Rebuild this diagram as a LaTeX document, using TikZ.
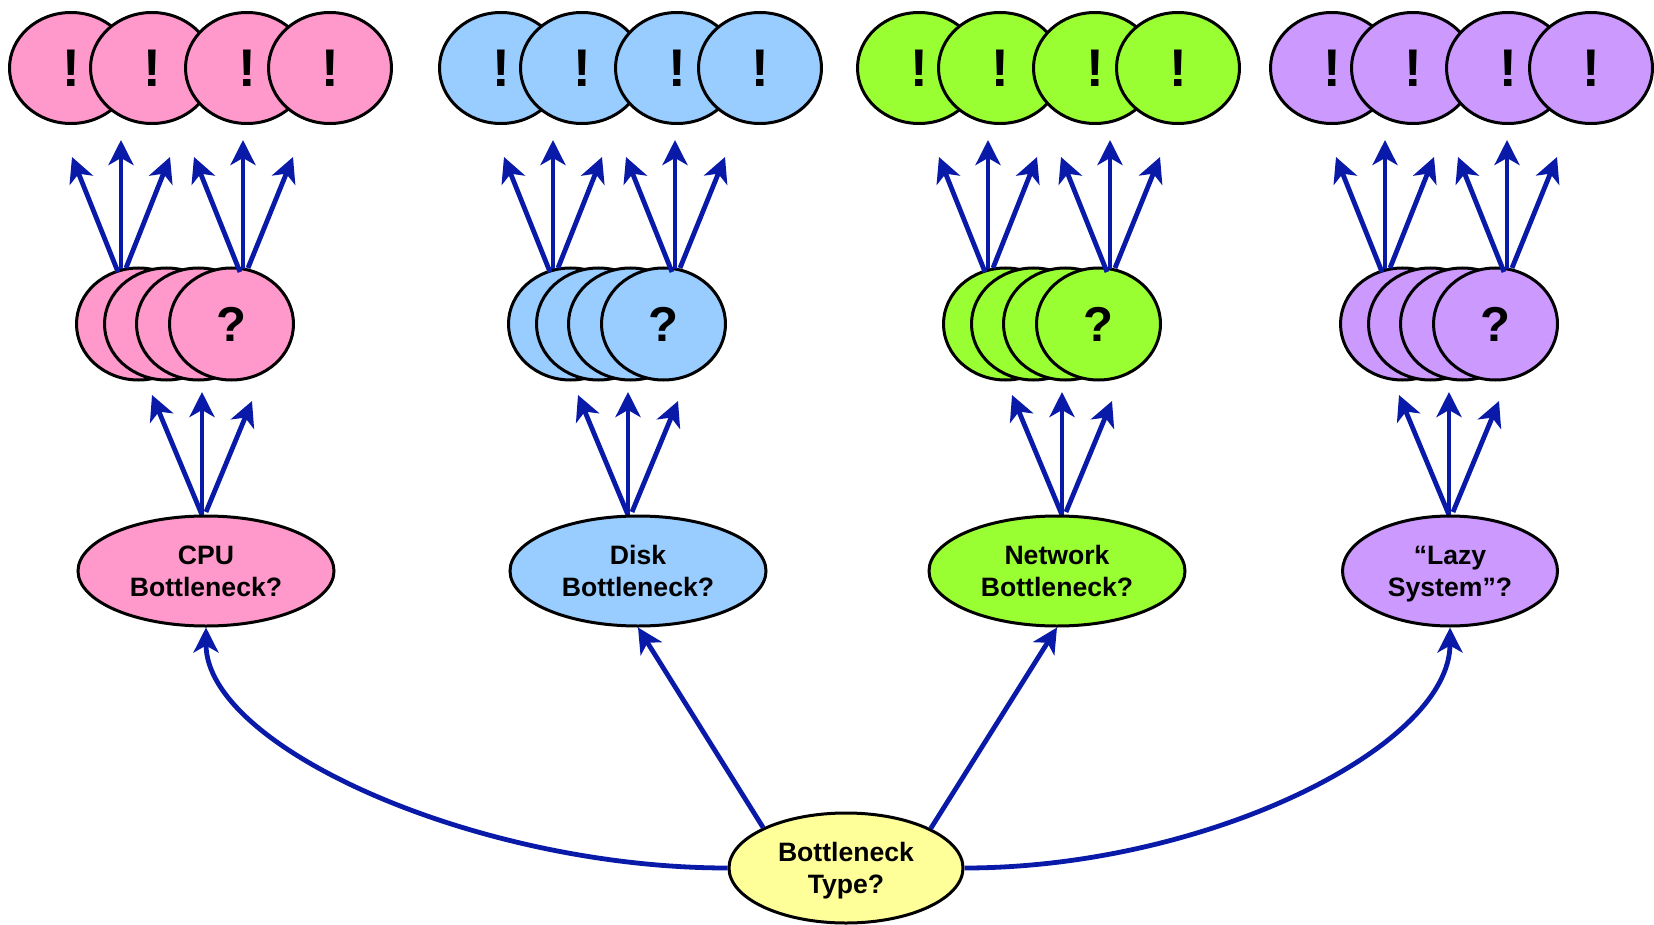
\documentclass[tikz,border=0pt]{standalone}
\usepackage{fontspec}
\setmainfont{Liberation Sans}
\usetikzlibrary{shapes.geometric,arrows.meta}
\definecolor{pinkfill}{HTML}{FF99CC}
\definecolor{bluefill}{HTML}{99CCFF}
\definecolor{greenfill}{HTML}{99FF33}
\definecolor{purplefill}{HTML}{CC99FF}
\definecolor{yellowfill}{HTML}{FFFF99}
\definecolor{arrowblue}{RGB}{10,26,168}

\begin{document}
\begin{tikzpicture}[x=0.5pt,y=-0.5pt,
  bub/.style={ellipse, draw=black, line width=1.5pt, inner sep=0pt},
  leaf/.style={bub, minimum width=61.5pt, minimum height=55.5pt,
    font=\bfseries\fontsize{26.5}{26.5}\selectfont},
  guess/.style={bub, minimum width=62pt, minimum height=56pt,
    font=\bfseries\fontsize{24.5}{24.5}\selectfont},
  cat/.style={bub, minimum width=128pt, minimum height=55pt, align=center,
    text depth=0pt, font=\bfseries\fontsize{13.3}{16}\selectfont},
  conn/.style={draw=arrowblue, line width=2.4pt,
    -{Stealth[length=12.5pt, width=12.5pt, inset=3.5pt]}}
]
\useasboundingbox (0,0) rectangle (1654,925);

% four branches: leaf row, stack of guesses, and fan-out arrows
\foreach \g/\col/\tx/\mx/\ax in {p/pinkfill/0/0/202, b/bluefill/430/432/628,
                                 n/greenfill/848/867/1062, l/purplefill/1261/1264/1449} {
  \foreach \i/\x in {1/71,2/152,3/247,4/330}
    \node[leaf, fill=\col] (t\g\i) at (\x+\tx, 68) {!};
  \foreach \i/\x in {1/138.5,2/166.5,3/198.5}
    \node[guess, fill=\col] (m\g\i) at (\x+\mx, 324) {};
  \node[guess, fill=\col] (m\g4) at (231.5+\mx, 324) {?};

  % upper fans
  \coordinate (ua\g) at (121+\mx, 269);
  \coordinate (ua\g l) at (72+\mx, 157);
  \coordinate (ua\g c) at (121+\mx, 140);
  \coordinate (ua\g r) at (170+\mx, 157);
  \coordinate (ub\g) at (243+\mx, 269);
  \coordinate (ub\g l) at (194+\mx, 157);
  \coordinate (ub\g c) at (243+\mx, 140);
  \coordinate (ub\g r) at (293+\mx, 157);
  \draw[conn] ([shift={(-3,3)}]ua\g) -- (ua\g l);
  \draw[conn] (ua\g) -- (ua\g c);
  \draw[conn] ([shift={(5,-1)}]ua\g) -- (ua\g r);
  \draw[conn] ([shift={(-3,3)}]ub\g) -- (ub\g l);
  \draw[conn] (ub\g) -- (ub\g c);
  \draw[conn] ([shift={(5,-1)}]ub\g) -- (ub\g r);

  % lower fans
  \coordinate (la\g) at (\ax, 515);
  \coordinate (la\g l) at (\ax-50, 395);
  \coordinate (la\g c) at (\ax, 392);
  \coordinate (la\g r) at (\ax+50, 401);
  \draw[conn] (la\g) -- (la\g l);
  \draw[conn] (la\g) -- (la\g c);
  \draw[conn] ([shift={(4,-3)}]la\g) -- (la\g r);
}

% bottleneck categories
\node[cat, fill=pinkfill] (cpu) at (206, 571) {CPU\\Bottleneck?};
\node[cat, fill=bluefill] (disk) at (638, 571) {Disk\\Bottleneck?};
\node[cat, fill=greenfill] (net) at (1057, 571) {Network\\Bottleneck?};
\node[cat, fill=purplefill, minimum width=107.5pt] (lazy) at (1450, 571) {“Lazy\\System”?};

% root question
\node[cat, fill=yellowfill, minimum width=117pt] (bt) at (846, 868) {Bottleneck\\Type?};

\draw[conn] (bt.154) -- (disk.south);
\draw[conn] (bt.25) -- (net.south);
\draw[conn] (bt.west) .. controls +(-250,0) and +(0,120) .. (cpu.south);
\draw[conn] (bt.east) .. controls +(240,0) and +(0,120) .. (lazy.south);
\end{tikzpicture}
\end{document}
